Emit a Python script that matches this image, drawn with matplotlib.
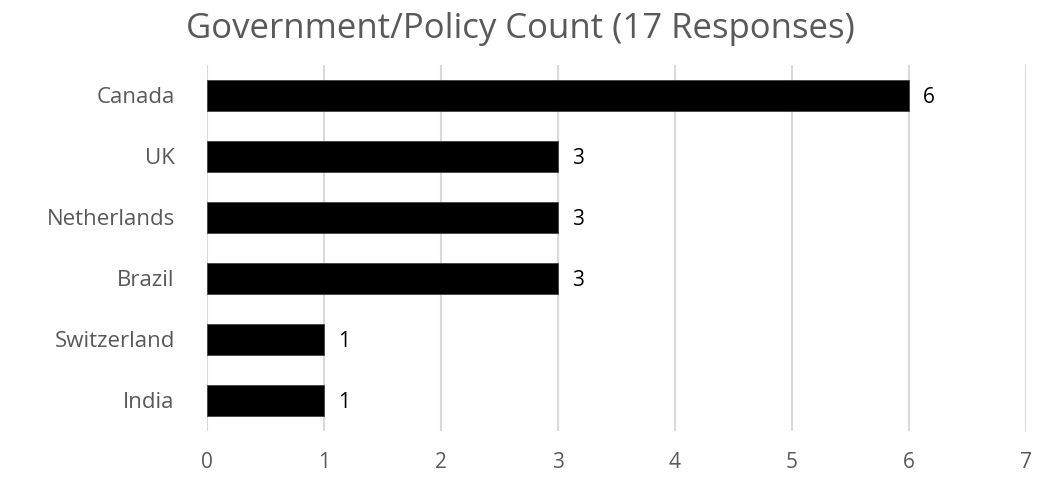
import matplotlib.pyplot as plt

# data
countries = ['Canada', 'UK', 'Netherlands', 'Brazil', 'Switzerland', 'India']
counts = [6, 3, 3, 3, 1, 1]
xticks = [0, 1, 2, 3, 4, 5, 6, 7]

plt.rcParams['font.family'] = ['Open Sans', 'DejaVu Sans']

fig = plt.figure(figsize=(10.41, 4.78), dpi=100)
ax = fig.add_axes([0.1986, 0.0983, 0.787, 0.7663])

ypos = list(range(len(countries)))[::-1]
ax.barh(ypos, counts, height=0.5, color='black', edgecolor='#404040', linewidth=0.6, zorder=3)

# value labels to the right of the bars
for y, v in zip(ypos, counts):
    ax.text(v + 0.12, y, str(v), va='center_baseline', ha='left', fontsize=15, color='black')

ax.set_xlim(0, 7)
ax.set_ylim(-0.5, len(countries) - 0.5)
ax.set_xticks(xticks)
ax.set_yticks(ypos)
ax.set_yticklabels(countries)
ax.xaxis.grid(True, color='#d9d9d9', linewidth=1.5, zorder=0)
ax.tick_params(axis='x', length=0, pad=15, labelsize=15, labelcolor='#595959')
ax.tick_params(axis='y', length=0, pad=23, labelsize=16, labelcolor='#595959')
for s in ax.spines.values():
    s.set_visible(False)

fig.text(0.5, 0.94, 'Government/Policy Count (17 Responses)', ha='center', va='center',
         fontsize=25, color='#595959')

plt.savefig('out.png', dpi=100)
